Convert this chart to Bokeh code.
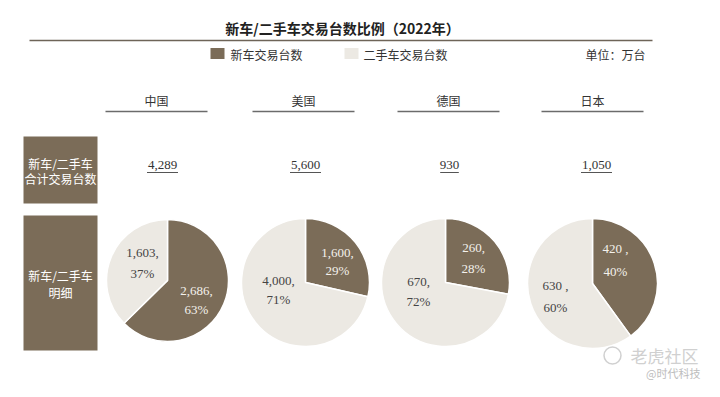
import math
from bokeh.plotting import figure
from bokeh.models import Range1d, ColumnDataSource
from bokeh.core.properties import value
from bokeh.embed import file_html
from bokeh.resources import INLINE

# ---- data ----
countries = ["中国", "美国", "德国", "日本"]
totals = [4289, 5600, 930, 1050]
new_cars = [2686, 1600, 260, 420]
used_cars = [1603, 4000, 670, 630]
new_pct = [63, 29, 28, 40]
used_pct = [37, 71, 72, 60]
label_sep = [",", ",", ",", " ,"]
legend_labels = ["新车交易台数", "二手车交易台数"]
title_text = "新车/二手车交易台数比例（2022年）"
unit_text = "单位：万台"

BROWN = "#7b6c58"
LIGHT = "#ece9e3"
CJK = "Noto Sans CJK SC"
SERIF = "Liberation Serif"

p = figure(width=704, height=381, x_range=Range1d(0, 704), y_range=Range1d(-381, 0),
           output_backend="svg", toolbar_location=None, min_border=0,
           x_axis_location=None, y_axis_location=None)
p.grid.visible = False
p.outline_line_color = None
p.background_fill_color = "white"
p.border_fill_color = "white"


def Y(ys):
    return -ys


def txt(x, y, s, size="12px", color="#333333", font=CJK, align="center", style="normal"):
    p.text(x=[x], y=[Y(y)], text=[s], text_font=value(font), text_font_size=size,
           text_color=color, text_align=align, text_baseline="middle", text_font_style=style)


# title + rule
txt(342, 27, title_text, size="14px", color="#222222", style="bold")
p.segment(x0=[29], y0=[Y(40)], x1=[652], y1=[Y(40)], line_color="#6e6458", line_width=1.5)

# legend
p.rect(x=[217, 351], y=[Y(53), Y(53)], width=14, height=11, fill_color=[BROWN, LIGHT], line_color=None)
txt(230, 54, legend_labels[0], align="left")
txt(363, 54, legend_labels[1], align="left")
txt(645, 54, unit_text, align="right")

# layout positions
col_x = [162, 305, 449, 596]
pie_cx = [167, 305, 445, 592]
pie_cy = [280, 282, 282, 283]
pie_r = [61, 64, 64, 65]
new_lbl = [(196, 290, 309), (337, 252, 270), (473, 247, 268), (615, 248, 271)]
used_lbl = [(142, 252, 273), (278, 280, 299), (418, 281, 301), (555, 285, 307)]

# country headers
for i, c in enumerate(countries):
    hx = [156, 303, 448, 592][i]
    txt(hx, 100, c, size="12px", color="#333333")
    p.segment(x0=[hx - 51], y0=[Y(111)], x1=[hx + 51], y1=[Y(111)], line_color="#6b6b6b", line_width=1.5)

# row boxes
p.quad(left=[23, 23], right=[97, 97], top=[Y(136), Y(215)], bottom=[Y(203), Y(350)],
       fill_color=BROWN, line_color=None)
txt(60, 163, "新车/二手车", color="white")
txt(60, 178, "合计交易台数", color="white")
txt(60, 275, "新车/二手车", color="white")
txt(60, 292, "明细", color="white")

# totals
for i, t in enumerate(totals):
    s = f"{t:,}"
    txt(col_x[i], 164, s, size="13px", font=SERIF, color="#333333")
    w = len(s) * 6.2
    p.segment(x0=[col_x[i] - w / 2], y0=[Y(172)], x1=[col_x[i] + w / 2], y1=[Y(172)],
              line_color="#555555", line_width=1)

# pies
xs, ys, rs, starts, ends, cols = [], [], [], [], [], []
for i in range(4):
    frac = new_cars[i] / (new_cars[i] + used_cars[i])
    a0 = math.pi / 2
    a1 = math.pi / 2 - 2 * math.pi * frac
    xs += [pie_cx[i], pie_cx[i]]
    ys += [Y(pie_cy[i]), Y(pie_cy[i])]
    rs += [pie_r[i], pie_r[i]]
    starts += [a0, a1]
    ends += [a1, a0]
    cols += [BROWN, LIGHT]
src = ColumnDataSource(dict(x=xs, y=ys, r=rs, s=starts, e=ends, c=cols))
p.wedge(x="x", y="y", radius="r", start_angle="s", end_angle="e", direction="clock",
        fill_color="c", line_color="white", line_width=1.5, source=src)

for i in range(4):
    x, y1, y2 = new_lbl[i]
    txt(x, y1, f"{new_cars[i]:,}{label_sep[i]}", size="13px", font=SERIF, color="#f4f1ec")
    txt(x, y2, f"{new_pct[i]}%", size="13px", font=SERIF, color="#f4f1ec")
    x, y1, y2 = used_lbl[i]
    txt(x, y1, f"{used_cars[i]:,}{label_sep[i]}", size="13px", font=SERIF, color="#444444")
    txt(x, y2, f"{used_pct[i]}%", size="13px", font=SERIF, color="#444444")

# watermark
p.scatter(x=[612], y=[Y(355)], size=17, fill_color=None, line_color="#d0d0d0", line_width=1.5)
txt(664, 355, "老虎社区", size="17px", color="#d0d0d0")
txt(700, 372, "@时代科技", size="11px", color="#bdbdbd", align="right")

open("out.html", "w").write(file_html(p, INLINE))
